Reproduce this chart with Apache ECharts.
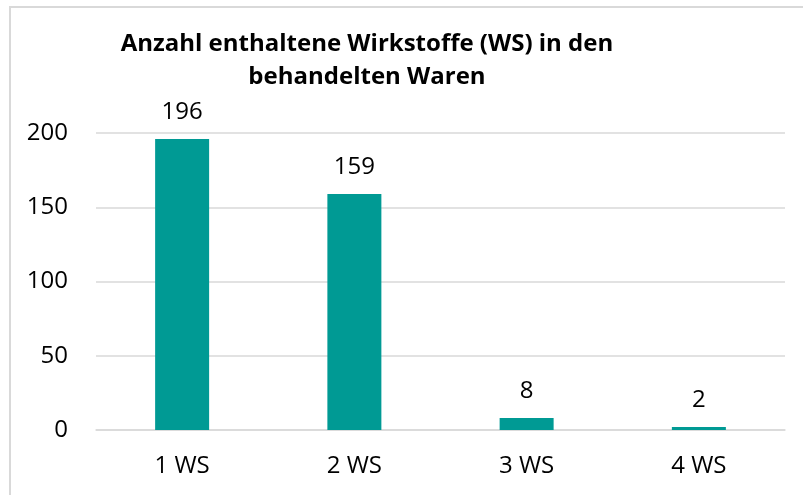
<!DOCTYPE html>
<html>
<head>
<meta charset="utf-8">
<script src="https://cdn.jsdelivr.net/npm/echarts@6/dist/echarts.min.js"></script>
<style>
	body { margin: 0; background: #fff; }
	#frame { position: absolute; left: 9px; top: 6px; right: 0; bottom: 0; border-left: 2px solid #d9d9d9; border-top: 2px solid #d9d9d9; }
	#main { position: absolute; left: 0; top: 0; width: 803px; height: 495px; }
</style>
</head>
<body>
<div id="frame"></div>
<div id="main"></div>
<script>
	// Daten aus der Vorlage
	const categories = ['1 WS', '2 WS', '3 WS', '4 WS'];
	const counts = [196, 159, 8, 2];
	const titleText = 'Anzahl enthaltene Wirkstoffe (WS) in den\nbehandelten Waren';

	let chart = echarts.init(document.getElementById('main'));
	const font = '"Open Sans", "Noto Sans", sans-serif';
	const option = {
		animation: false,
		textStyle: { fontFamily: font },
		title: {
			text: titleText,
			left: 362,
			top: 23,
			textAlign: 'center',
			textStyle: {
				fontFamily: font,
				fontSize: 24,
				fontWeight: 'bold',
				color: '#000',
				lineHeight: 33
			}
		},
		grid: {
			left: 96,
			right: 18,
			top: 133,
			bottom: 65
		},
		xAxis: {
			type: 'category',
			data: categories,
			axisTick: { show: false },
			axisLine: { lineStyle: { color: '#d9d9d9', width: 1.5 } },
			axisLabel: { color: '#000', fontSize: 24, margin: 24, fontFamily: font }
		},
		yAxis: {
			type: 'value',
			min: 0,
			max: 200,
			interval: 50,
			axisLine: { show: false },
			axisTick: { show: false },
			splitLine: { lineStyle: { color: '#d9d9d9', width: 1.5 } },
			axisLabel: { color: '#000', fontSize: 24, margin: 28, fontFamily: font }
		},
		series: [
			{
				type: 'bar',
				data: counts,
				barWidth: 54,
				itemStyle: { color: '#009a94' },
				label: {
					show: true,
					position: 'top',
					distance: 15,
					color: '#000',
					fontSize: 24,
					fontFamily: font
				}
			}
		]
	};
	chart.setOption(option);
</script>
</body>
</html>
